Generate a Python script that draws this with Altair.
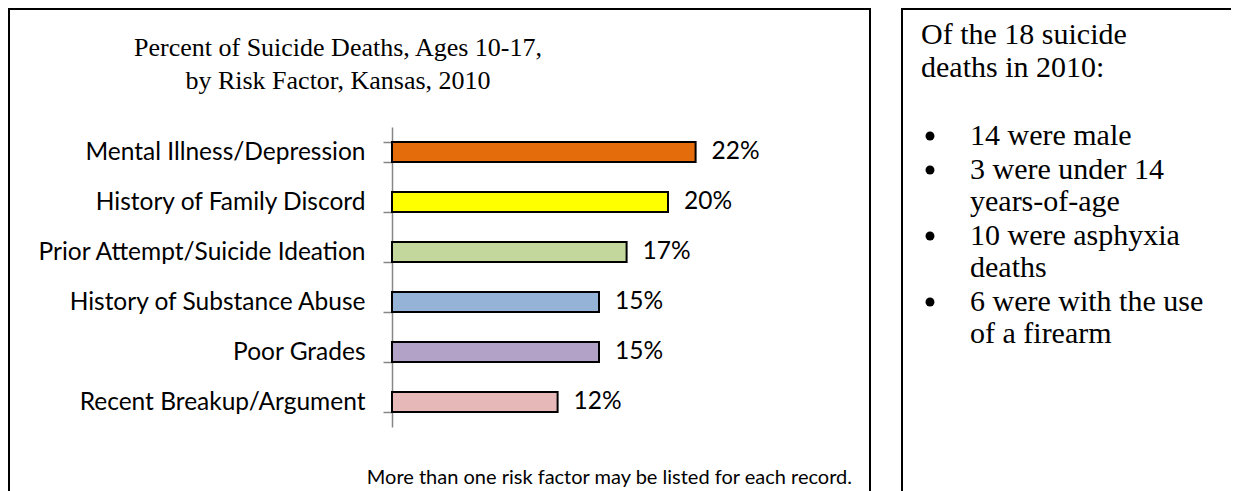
import altair as alt
import pandas as pd

# ---- data ----
categories = [
    "Mental Illness/Depression",
    "History of Family Discord",
    "Prior Attempt/Suicide Ideation",
    "History of Substance Abuse",
    "Poor Grades",
    "Recent Breakup/Argument",
]
values = [22, 20, 17, 15, 15, 12]
value_labels = ["22%", "20%", "17%", "15%", "15%", "12%"]
bar_colors = ["#E46C0A", "#FFFF00", "#C3D69B", "#95B3D7", "#B3A2C7", "#E6B9B8"]

title_lines = ["Percent of Suicide Deaths, Ages 10-17,", "by Risk Factor, Kansas, 2010"]
footnote = "More than one risk factor may be listed for each record."
side_header = ["Of the 18 suicide", "deaths in 2010:"]
bullet_items = [
    ["14 were male"],
    ["3 were under 14", "years-of-age"],
    ["10 were asphyxia", "deaths"],
    ["6 were with the use", "of a firearm"],
]

df = pd.DataFrame({"category": categories, "value": values,
                   "label": value_labels, "color": bar_colors})
one = pd.DataFrame({"k": [0]})

# page -> chart coordinates (plot origin at page 392,127)
OX, OY = 392, 127
def cx(x):
    return x - OX
def cy(y):
    return y - OY

SANS = "Lato"
SERIF = "Liberation Serif"

yaxis = alt.Axis(title=None, domainColor="#868686", domainWidth=1.5,
                 tickColor="#868686", tickWidth=1.5, tickSize=9,
                 tickBand="extent", labelFont=SANS, labelFontSize=24.5,
                 labelColor="black", labelPadding=18, labelLimit=500,
                 grid=False)
Y = alt.Y("category:N", sort=categories,
          scale=alt.Scale(paddingInner=0.6, paddingOuter=0.3), axis=yaxis)
X = alt.X("value:Q", scale=alt.Scale(domain=[0, 25]), axis=None)

bars = alt.Chart(df).mark_bar(stroke="black", strokeWidth=2).encode(
    x=X, y=Y, color=alt.Color("color:N", scale=None))
vlabels = alt.Chart(df).mark_text(align="left", baseline="middle", dx=16,
                                  font=SANS, fontSize=24.5, color="black").encode(
    x=X, y=Y, text="label:N")


def text_layer(txt, x, y, size, font, align="left"):
    return alt.Chart(one).mark_text(text=txt, font=font, fontSize=size,
                                    align=align, baseline="alphabetic",
                                    color="black").encode(
        x=alt.value(cx(x)), y=alt.value(cy(y)))


def bullet(x, y):
    return alt.Chart(one).mark_circle(size=80, color="black", opacity=1).encode(
        x=alt.value(cx(x)), y=alt.value(cy(y)))


def box(x1, x2, y1, y2):
    return alt.Chart(one).mark_rect(fillOpacity=0, stroke="black",
                                    strokeWidth=2).encode(
        x=alt.value(cx(x1)), x2=alt.value(cx(x2)),
        y=alt.value(cy(y1)), y2=alt.value(cy(y2)))


layers = [box(9, 870, 9, 800), box(902, 1400, 9, 800), bars, vlabels]

# title
layers.append(text_layer(title_lines[0], 338, 56, 26, SERIF, "center"))
layers.append(text_layer(title_lines[1], 338, 89, 26, SERIF, "center"))
# footnote
layers.append(text_layer(footnote, 852, 484, 20, SANS, "right"))

# side panel
layers.append(text_layer(side_header[0], 921, 44, 30, SERIF))
layers.append(text_layer(side_header[1], 921, 77, 30, SERIF))
y = 145
for item in bullet_items:
    layers.append(bullet(930, y - 9))
    for line in item:
        layers.append(text_layer(line, 970, y, 30, SERIF))
        y += 32
    y += 2

chart = alt.layer(*layers).properties(
    width=345, height=300,
    autosize=alt.AutoSizeParams(type="none"),
    padding={"left": 384, "top": 119, "right": 494, "bottom": 64},
).configure_view(strokeOpacity=0)

chart.save("out.html", embed_options={"renderer": "svg", "actions": False})
